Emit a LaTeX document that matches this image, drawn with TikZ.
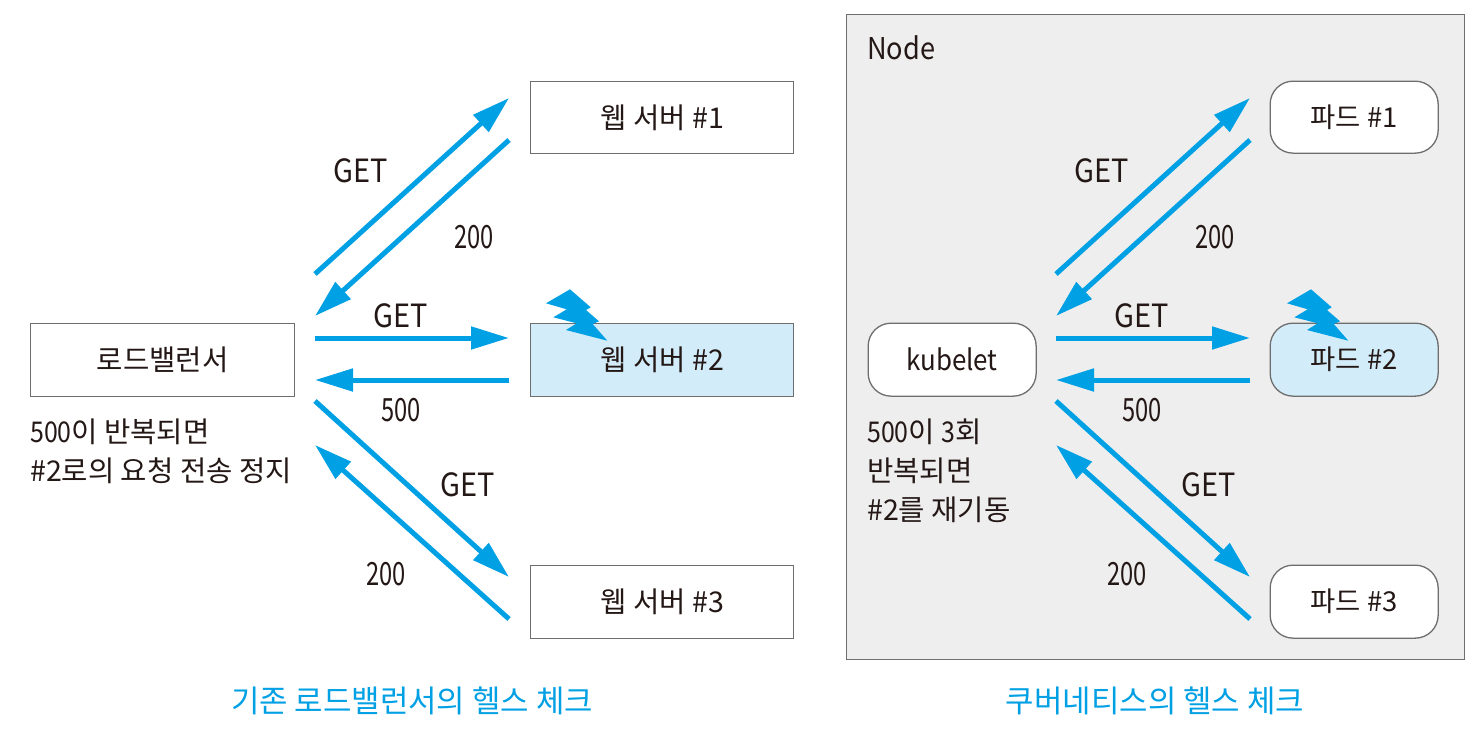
\documentclass[tikz,border=0pt]{standalone}
\usepackage{fontspec}
\setmainfont{Noto Sans CJK KR}
\newfontfamily\latnarrow[FakeStretch=0.905]{Noto Sans CJK KR}
\newfontfamily\dignarrow[FakeStretch=0.74]{Noto Sans CJK KR}
\newfontfamily\dignote[FakeStretch=0.87]{Noto Sans CJK KR}
\usetikzlibrary{arrows.meta}
\definecolor{flow}{HTML}{00A0E4}
\definecolor{edgegray}{HTML}{6E6E6E}
\definecolor{hot}{HTML}{D3ECF9}
\definecolor{panel}{HTML}{EEEEEE}
\definecolor{ink}{HTML}{231815}
\tikzset{
  basebox/.style={draw=edgegray,line width=1.3pt,fill=white,anchor=north west,inner sep=0pt,text=ink,font=\fontsize{28.6}{32}\selectfont},
  sqbox/.style={basebox},
  rdbox/.style={basebox,rounded corners=23pt,font=\fontsize{27.4}{32}\selectfont},
  hotbox/.style={fill=hot},
  msg/.style={text=ink,inner sep=0pt,font=\latnarrow\fontsize{32}{36}\selectfont},
  msgnum/.style={text=ink,inner sep=0pt,font=\dignarrow\fontsize{32}{36}\selectfont},
  note/.style={text=ink,inner sep=0pt,anchor=north west,align=left,font=\fontsize{28.6}{39}\selectfont},
  caption/.style={text=flow,inner sep=0pt,font=\fontsize{30.9}{36}\selectfont},
  flowline/.style={draw=flow,line width=5pt,-{Triangle[length=38pt,width=22pt]},shorten >=0pt},
  zap/.style={fill=flow,draw=none}
}
\begin{document}
\begin{tikzpicture}[x=1pt,y=-1pt]
\useasboundingbox (0,0) rectangle (1480,734);
\fill[white] (0,0) rectangle (1480,734);
\node[draw=edgegray,line width=1.3pt,fill=panel,anchor=north west,minimum width=618pt,minimum height=645pt,inner sep=0pt] (nodepanel) at (846,14) {};
\node[note,font=\latnarrow\fontsize{30}{34}\selectfont] (nodelabel) at (867,35) {Node};
% left
\node[sqbox,minimum width=264pt,minimum height=73pt] (lb) at (30,323) {로드밸런서};
\node[sqbox,minimum width=263pt,minimum height=72pt] (w1) at (530,81) {웹 서버 \#1};
\node[sqbox,hotbox,minimum width=263pt,minimum height=73pt] (w2) at (530,323) {웹 서버 \#2};
\node[sqbox,minimum width=263pt,minimum height=73pt] (w3) at (530,565) {웹 서버 \#3};
\node[note] (lnote) at (30,419) {{\dignote 500}이 반복되면\\\#2로의 요청 전송 정지};
% right
\node[rdbox,minimum width=168pt,minimum height=73pt,font=\latnarrow\fontsize{28.6}{32}\selectfont] (kb) at (867.5,322.5) {kubelet};
\node[rdbox,minimum width=168pt,minimum height=72pt] (p1) at (1269.5,80.5) {파드 \#1};
\node[rdbox,hotbox,minimum width=168pt,minimum height=73pt] (p2) at (1269.5,322.5) {파드 \#2};
\node[rdbox,minimum width=168pt,minimum height=73pt] (p3) at (1269.5,564.5) {파드 \#3};
\node[note] (rnote) at (867,419) {{\dignote 500}이 {\dignote 3}회\\반복되면\\\#2를 재기동};
% free ends
\foreach \pre/\dx in {l/0,r/741}{
  \coordinate (\pre a1) at (315+\dx,274);
  \coordinate (\pre b1) at (509+\dx,98);
  \coordinate (\pre a2) at (509+\dx,140);
  \coordinate (\pre b2) at (315+\dx,316);
  \coordinate (\pre a3) at (315+\dx,338);
  \coordinate (\pre b3) at (509+\dx,338);
  \coordinate (\pre a4) at (509+\dx,380);
  \coordinate (\pre b4) at (315+\dx,380);
  \coordinate (\pre a5) at (315+\dx,401);
  \coordinate (\pre b5) at (509+\dx,577);
  \coordinate (\pre a6) at (509+\dx,619);
  \coordinate (\pre b6) at (315+\dx,445);
  \foreach \k in {1,...,6}{\draw[flowline] (\pre a\k) -- (\pre b\k);}
  \fill[zap] (570+\dx,289.3) -- (590.7+\dx,307.3) -- (586+\dx,310) -- (599+\dx,321.3) -- (592.7+\dx,324) -- (607.3+\dx,340.7) -- (566+\dx,330) -- (576.7+\dx,323.3) -- (553.3+\dx,317.3) -- (566.7+\dx,309.3) -- (546+\dx,303.3) -- cycle;
  \node[msg] (\pre m1) at (360.5+\dx,171) {GET};
  \node[msgnum] (\pre m2) at (474+\dx,237) {200};
  \node[msg] (\pre m3) at (401+\dx,316) {GET};
  \node[msgnum] (\pre m4) at (401+\dx,410) {500};
  \node[msg] (\pre m5) at (468+\dx,485) {GET};
  \node[msgnum] (\pre m6) at (386+\dx,574) {200};
}
\node[caption] (cl) at (412,701) {기존 로드밸런서의 헬스 체크};
\node[caption] (cr) at (1155,701) {쿠버네티스의 헬스 체크};
\end{tikzpicture}
\end{document}
